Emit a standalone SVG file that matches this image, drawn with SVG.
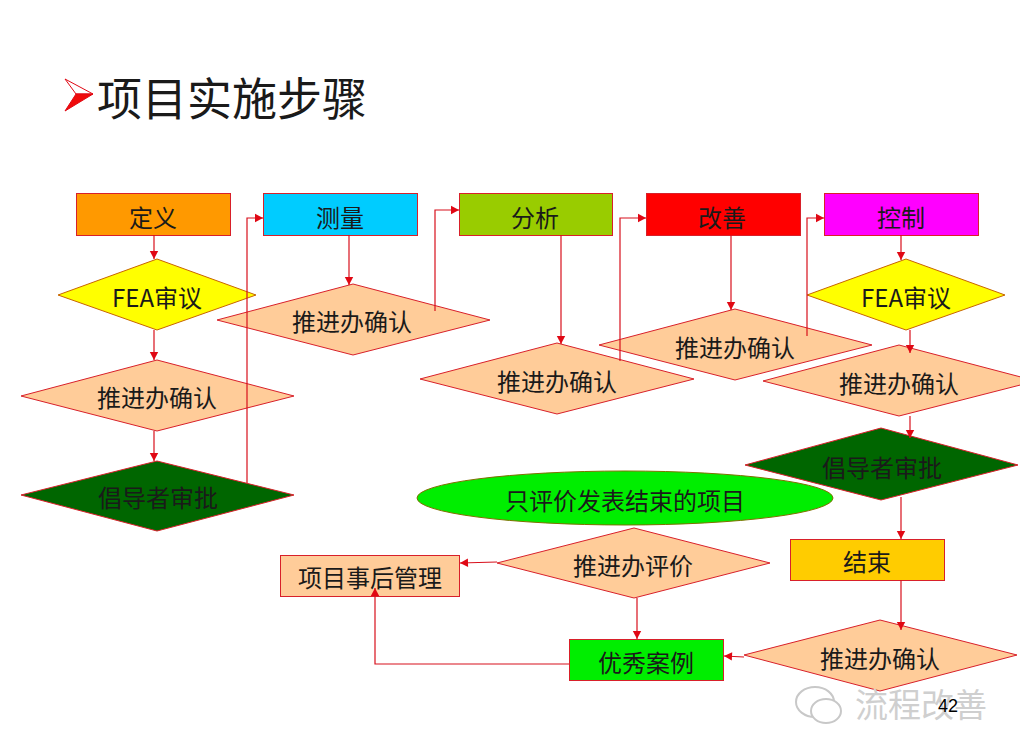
<svg xmlns="http://www.w3.org/2000/svg" width="1020" height="756" viewBox="0 0 1020 756">
<style>
text{font-family:"Noto Sans CJK SC","Liberation Sans",sans-serif;font-size:24px;fill:#1a1a1a;text-anchor:middle;dominant-baseline:central}
.s{stroke:#d8202a;stroke-width:1}
.p{fill:#ffcc99}.y{fill:#ffff00;stroke:#c86400}.g{fill:#006600}
.c{fill:none;stroke:#d8101c;stroke-width:1.2;marker-end:url(#a)}
</style>
<defs><marker id="a" markerUnits="userSpaceOnUse" markerWidth="10" markerHeight="10" refX="9" refY="5" orient="auto"><path d="M1 0.8L9 5L1 9.2Z" fill="#e00814"/></marker></defs>
<rect width="1020" height="756" fill="#fff"/>
<g id="title">
<path d="M65 79L93 94L76 94Z" fill="#fff" stroke="#e00814"/>
<path d="M65 111L93 94L76 94Z" fill="#f00a0a" stroke="#e00814"/>
<text x="232" y="96" style="font-size:45px">项目实施步骤</text>
</g>
<g id="define"><rect class="s" x="76.500" y="193.500" width="154" height="42" fill="#ff9900"/><text x="153" y="216">定义</text></g>
<g id="measure"><rect class="s" x="263.500" y="193.500" width="154" height="42" fill="#00ccff" stroke="#c03040"/><text x="340" y="216">测量</text></g>
<g id="analyze"><rect class="s" x="459.500" y="193.500" width="153" height="42" fill="#99cc00"/><text x="535" y="216">分析</text></g>
<g id="improve"><rect class="s" x="646.500" y="193.500" width="154" height="42" fill="#ff0000"/><text x="722" y="216">改善</text></g>
<g id="control"><rect class="s" x="824.500" y="193.500" width="154" height="42" fill="#ff00ff"/><text x="901" y="216">控制</text></g>
<g id="fea1"><polygon class="y" points="58,295 157,259 256,295 157,330"/><text x="157" y="296">FEA审议</text></g>
<g id="confirm-define"><polygon class="s p" points="21,396 157,360 294,396 157,431"/><text x="157" y="396">推进办确认</text></g>
<g id="sponsor1"><polygon class="s g" points="21,495 157,461 294,495 157,531"/><text x="158" y="496">倡导者审批</text></g>
<g id="confirm-measure"><polygon class="s p" points="217,320 353,284 490,320 353,355"/><text x="352" y="320">推进办确认</text></g>
<g id="confirm-analyze"><polygon class="s p" points="420,379 557,343 694,379 557,414"/><text x="557" y="380">推进办确认</text></g>
<g id="confirm-improve"><polygon class="s p" points="599,345 735,309 872,345 735,380"/><text x="735" y="346">推进办确认</text></g>
<g id="fea2"><polygon class="y" points="807,295 906,259 1005,295 906,330"/><text x="906" y="296">FEA审议</text></g>
<g id="confirm-control"><polygon class="s p" points="763,381 899,345 1036,381 899,416"/><text x="899" y="382">推进办确认</text></g>
<g id="sponsor2"><polygon class="s g" points="745,465 881,428 1018,465 881,500"/><text x="882" y="466">倡导者审批</text></g>
<g id="end"><rect class="s" x="790.500" y="539.500" width="154" height="41" fill="#ffcc00"/><text x="867" y="560">结束</text></g>
<g id="confirm-end"><polygon class="s p" points="744,655 880,620 1017,655 880,691"/><text x="880" y="657">推进办确认</text></g>
<g id="note"><ellipse cx="625" cy="498" rx="208" ry="27" fill="#00ee00" stroke="#807000"/><text x="625" y="499">只评价发表结束的项目</text></g>
<g id="evaluate"><polygon class="s p" points="497,563 634,528 770,563 634,598"/><text x="633" y="564">推进办评价</text></g>
<g id="followup"><rect class="s p" x="280.500" y="555.500" width="179" height="41"/><text x="370" y="576">项目事后管理</text></g>
<g id="best"><rect class="s" x="569.500" y="639.500" width="154" height="41" fill="#00ee00"/><text x="646" y="661">优秀案例</text></g>
<g id="connectors">
<path class="c" d="M154 235V259"/><path class="c" d="M154 330V360"/><path class="c" d="M154 431V461"/>
<path class="c" d="M247 483V218H263"/><path class="c" d="M349 235V285"/><path class="c" d="M435 311V210H459"/>
<path class="c" d="M561 235V344"/><path class="c" d="M620 361V218H646"/><path class="c" d="M731 235V310"/>
<path class="c" d="M807 336V218H824"/><path class="c" d="M901 235V260"/><path class="c" d="M910 330V353"/>
<path class="c" d="M910 416V438"/><path class="c" d="M901 497V539"/><path class="c" d="M901 580V630"/>
<path class="c" d="M744 657L724 656"/><path class="c" d="M497 562L460 563"/><path class="c" d="M637 598V639"/>
<path class="c" d="M569 664H375V588"/>
</g>
<g id="watermark">
<ellipse cx="815" cy="702" rx="19" ry="15" fill="#fff" stroke="#c8c8c8" stroke-width="2"/>
<ellipse cx="826" cy="711" rx="15" ry="12" fill="#fff" stroke="#c8c8c8" stroke-width="2"/>
<text x="921" y="703" style="font-size:33px;fill:#cfcfcf">流程改善</text>
</g>
<text id="page" x="948" y="706" style="font-family:'Liberation Sans',sans-serif;font-size:18px;fill:#000">42</text>
</svg>
